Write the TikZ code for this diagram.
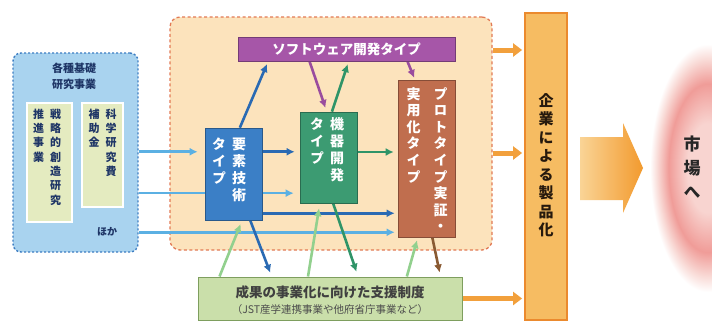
\documentclass[tikz,border=0pt]{standalone}
\usepackage{fontspec}
\setmainfont{Noto Sans CJK JP}
\newfontfamily\jpv{Noto Sans CJK JP}[RawFeature=+vert]
\usetikzlibrary{arrows.meta,calc}
\pgfdeclarelayer{back}\pgfdeclarelayer{mid}
\pgfsetlayers{back,mid,main}
\newcommand\vcol[1]{\begin{tabular}[t]{@{}c@{}}#1\end{tabular}}
\definecolor{lbfill}{HTML}{A9D3EF}
\definecolor{lbedge}{HTML}{3D7DC2}
\definecolor{innerc}{HTML}{E4EBC0}
\definecolor{regfill}{HTML}{FCE3BC}
\definecolor{regedge}{HTML}{E27A55}
\definecolor{purp}{HTML}{A656A8}
\definecolor{bluebx}{HTML}{3B7FC6}
\definecolor{greenbx}{HTML}{3C9B72}
\definecolor{brownbx}{HTML}{C06E4E}
\definecolor{botfill}{HTML}{CADFAA}
\definecolor{botedge}{HTML}{7E9E5E}
\definecolor{barfill}{HTML}{F6BC62}
\definecolor{baredge}{HTML}{EB8A2E}
\definecolor{orarrow}{HTML}{F2A03C}
\definecolor{dblue}{HTML}{2A6AB3}
\definecolor{lblue}{HTML}{5BB0E3}
\definecolor{dgreen}{HTML}{2F9468}
\definecolor{lgreen}{HTML}{92D08E}
\definecolor{parr}{HTML}{9A4C9E}
\definecolor{barr}{HTML}{8A5A32}
\definecolor{navy}{HTML}{1E3566}
\definecolor{mkA}{HTML}{F8D4D0}
\definecolor{mkB}{HTML}{F09C98}
\definecolor{mkC}{HTML}{F9DCD8}
\definecolor{bigL}{HTML}{FAD496}
\definecolor{bigR}{HTML}{F29A2E}
\pgfdeclareradialshading{mkt}{\pgfpoint{0bp}{0bp}}{color(0bp)=(mkA); color(9bp)=(mkA); color(17bp)=(mkB); color(22bp)=(mkC); color(25bp)=(white); color(50bp)=(white)}
\begin{document}
\begin{tikzpicture}[x=1pt,y=-1pt,
  bx/.style={rectangle, inner sep=0pt},
  vt/.style={inner sep=0pt, anchor=north},
  arr/.style={line width=2.6pt, -{Latex[length=8pt,width=8pt]}},
  oarr/.style={line width=5pt, orarrow, -{Triangle[length=9pt,width=13pt]}}]
\useasboundingbox (0,0) rectangle (712,327);
\begin{pgfonlayer}{back}
\fill[white] (0,0) rectangle (712,327);
\end{pgfonlayer}
% market glow
\shade[shading=mkt] (708,168) ellipse (58 and 124);
\node[vt, anchor=center, text=black!85, font={\jpv\bfseries\fontsize{17}{24}\selectfont}] (mkt) at (692,170) {\vcol{市\\場\\へ}};
% left box
\node[bx, fill=lbfill, draw=lbedge, line width=1.4pt, dash pattern=on 2pt off 2pt, rounded corners=8pt, minimum width=125pt, minimum height=199pt] (left) at (75.5,152.5) {};
\node[inner sep=0pt, align=center, text=navy, font={\bfseries\fontsize{11}{16.5}\selectfont}] (lt) at (74,76.5) {各種基礎\\研究事業};
\node[bx, fill=innerc, draw=white, line width=1.5pt, minimum width=45pt, minimum height=119pt] (in1) at (49.5,162.5) {};
\node[vt, text=navy, font={\jpv\bfseries\fontsize{11}{14.3}\selectfont}] (t1) at (47,108) {\vcol{推\\進\\事\\業}\hspace{6pt}\vcol{戦\\略\\的\\創\\造\\研\\究}};
\node[bx, fill=innerc, draw=white, line width=1.5pt, minimum width=41pt, minimum height=104pt] (in2) at (102.5,155) {};
\node[vt, text=navy, font={\jpv\bfseries\fontsize{11}{14.3}\selectfont}] (t2) at (102.5,108) {\vcol{補\\助\\金}\hspace{6pt}\vcol{科\\学\\研\\究\\費}};
\node[inner sep=0pt, text=navy, font={\bfseries\fontsize{10}{12}\selectfont}] (hoka) at (107,232) {ほか};
% region
\begin{pgfonlayer}{back}
\node[bx, fill=regfill, draw=regedge, line width=1.3pt, dash pattern=on 3pt off 2.5pt, rounded corners=10pt, minimum width=322pt, minimum height=233pt] (reg) at (331,133.5) {};
\end{pgfonlayer}
% type boxes
\node[bx, fill=purp, draw=purp!70!black, line width=0.6pt, minimum width=217pt, minimum height=24pt, text=white, font={\bfseries\fontsize{13.5}{16}\selectfont}] (soft) at (346.5,49) {ソフトウェア開発タイプ};
\node[bx, fill=bluebx, draw=bluebx!70!black, line width=0.6pt, minimum width=57pt, minimum height=92pt] (blue) at (233.5,174) {};
\node[vt, text=white, font={\jpv\bfseries\fontsize{14}{17}\selectfont}] (tb) at (229,137) {\vcol{タ\\イ\\プ}\hspace{6pt}\vcol{要\\素\\技\\術}};
\node[bx, fill=greenbx, draw=greenbx!70!black, line width=0.6pt, minimum width=57pt, minimum height=91pt] (green) at (328.5,157.5) {};
\node[vt, text=white, font={\jpv\bfseries\fontsize{14}{17}\selectfont}] (tg) at (327,117) {\vcol{タ\\イ\\プ}\hspace{6pt}\vcol{機\\器\\開\\発}};
\node[bx, fill=brownbx, draw=brownbx!70!black, line width=0.6pt, minimum width=57pt, minimum height=157pt] (brown) at (426.5,158.5) {};
\node[vt, text=white, font={\jpv\bfseries\fontsize{14}{16.5}\selectfont}] (tr) at (427,87) {\vcol{実\\用\\化\\タ\\イ\\プ}\hspace{13pt}\vcol{プ\\ロ\\ト\\タ\\イ\\プ\\実\\証\\・}};
% bottom box
\node[bx, fill=botfill, draw=botedge, line width=1pt, minimum width=264pt, minimum height=43pt] (bot) at (330,298.5) {};
\node[inner sep=0pt, text=black!75, font={\bfseries\fontsize{13.5}{16}\selectfont}] (bt1) at (330,292) {成果の事業化に向けた支援制度};
\node[inner sep=0pt, text=black!70, font={\fontsize{10.5}{12}\selectfont}] (bt2) at (330,310) {（JST産学連携事業や他府省庁事業など）};
% orange bar
\node[bx, fill=barfill, draw=baredge, line width=1.8pt, minimum width=42pt, minimum height=307pt] (bar) at (546,166.5) {};
\node[vt, text=black!80!brown, font={\jpv\bfseries\fontsize{15}{18.5}\selectfont}] (tbar) at (546,93) {\vcol{企\\業\\に\\よ\\る\\製\\品\\化}};
% big arrow
\shade[left color=bigL, right color=bigR] (580,137) -- (623,137) -- (623,123) -- (643,168) -- (623,213) -- (623,200) -- (580,200) -- cycle;
% connectors
\coordinate (yA) at ($(blue.north west)!0.26!(blue.south west)$);
\coordinate (yB) at ($(blue.north west)!0.707!(blue.south west)$);
\coordinate (yC) at ($(brown.north west)!0.968!(brown.south west)$);
\coordinate (yD) at ($(blue.north east)!0.26!(blue.south east)$);
\coordinate (yE) at ($(blue.north east)!0.924!(blue.south east)$);
\coordinate (yF) at ($(green.north east)!0.44!(green.south east)$);
\coordinate (oT) at (0,50);
\coordinate (oM) at (0,153);
\begin{pgfonlayer}{mid}
\draw[arr, lblue, shorten >=7pt] (left.east |- yA) -- (yA);
\draw[arr, lblue, shorten >=6pt] (left.east |- yB) -- (green.west |- yB);
\draw[arr, lblue, shorten >=3pt] (left.east |- yC) -- (yC);
\draw[arr, dblue, shorten >=5pt] (yD) -- (green.west |- yD);
\draw[arr, dblue, shorten >=3pt] (yE) -- (brown.west |- yE);
\draw[arr, dgreen, shorten >=4pt] (yF) -- (brown.west |- yF);
\draw[arr, dblue, shorten >=3pt] ($(blue.north west)!0.61!(blue.north east)$) -- ($(soft.south west)!0.14!(soft.south east)$);
\draw[arr, parr, shorten >=4pt] ($(soft.south west)!0.33!(soft.south east)$) -- ($(green.north west)!0.47!(green.north east)$);
\draw[arr, dgreen, shorten >=3pt] ($(green.north west)!0.56!(green.north east)$) -- ($(soft.south west)!0.51!(soft.south east)$);
\draw[arr, parr, shorten >=2pt] ($(soft.south west)!0.78!(soft.south east)$) -- ($(brown.north west)!0.30!(brown.north east)$);
\draw[arr, lgreen, shorten >=4pt] ($(bot.north west)!0.083!(bot.north east)$) -- ($(blue.south west)!0.65!(blue.south east)$);
\draw[arr, dblue, shorten >=4pt] ($(blue.south west)!0.79!(blue.south east)$) -- ($(bot.north west)!0.28!(bot.north east)$);
\draw[arr, lgreen, shorten >=5pt] ($(bot.north west)!0.417!(bot.north east)$) -- ($(green.south west)!0.35!(green.south east)$);
\draw[arr, dgreen, shorten >=5pt] ($(green.south west)!0.58!(green.south east)$) -- ($(bot.north west)!0.606!(bot.north east)$);
\draw[arr, lgreen, shorten >=3pt] ($(bot.north west)!0.79!(bot.north east)$) -- ($(brown.south west)!0.35!(brown.south east)$);
\draw[arr, barr, shorten >=4pt] ($(brown.south west)!0.6!(brown.south east)$) -- ($(bot.north west)!0.917!(bot.north east)$);
\end{pgfonlayer}
\draw[oarr, shorten >=2pt] (reg.east |- oT) -- (bar.west |- oT);
\draw[oarr, shorten >=2pt] (reg.east |- oM) -- (bar.west |- oM);
\draw[oarr, shorten >=2pt] (bot.east) -- (bar.west |- bot.east);
\end{tikzpicture}
\end{document}
